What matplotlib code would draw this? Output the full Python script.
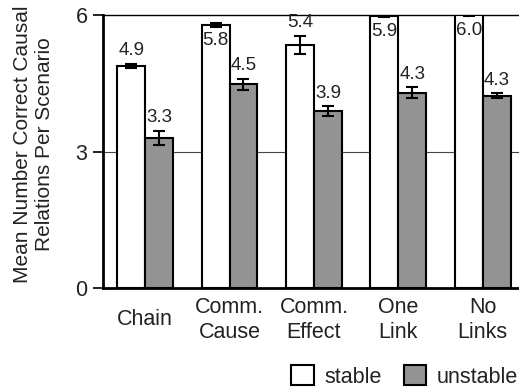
import numpy as np
import matplotlib.pyplot as plt
from matplotlib.patches import Patch

plt.rcParams['font.family'] = ['Liberation Sans', 'DejaVu Sans']

scenarios = ["Chain", "Comm.\nCause", "Comm.\nEffect", "One\nLink", "No\nLinks"]
stable = [4.88, 5.78, 5.34, 5.98, 6.0]
stable_err = [0.05, 0.05, 0.2, 0.02, 0.02]
stable_lbl = ["4.9", "5.8", "5.4", "5.9", "6.0"]
unstable = [3.3, 4.48, 3.89, 4.29, 4.23]
unstable_err = [0.15, 0.12, 0.1, 0.12, 0.05]
unstable_lbl = ["3.3", "4.5", "3.9", "4.3", "4.3"]

gray = "#939393"
fig = plt.figure(figsize=(5.19, 3.87), dpi=100)
ax = fig.add_axes([103 / 519, 99 / 387, 1 - 103 / 519, 273 / 387])

x = np.arange(len(scenarios))
w = 0.33
ekw = dict(elinewidth=1.5, capthick=1.5, ecolor="black")
ax.bar(x - w / 2, stable, w, yerr=stable_err, color="white", edgecolor="black",
       linewidth=1.5, capsize=4, error_kw=ekw, zorder=3)
ax.bar(x + w / 2, unstable, w, yerr=unstable_err, color=gray, edgecolor="black",
       linewidth=1.5, capsize=4, error_kw=ekw, zorder=3)

for i in range(len(x)):
    if stable[i] > 5.7:
        # labels that would hit the top line sit inside the bar
        ax.text(x[i] - w / 2, stable[i] - 0.15, stable_lbl[i], ha="center", va="top",
                fontsize=13.5, color="#222222", zorder=4)
    else:
        ax.text(x[i] - w / 2, stable[i] + stable_err[i] + 0.1, stable_lbl[i],
                ha="center", va="bottom", fontsize=13.5, color="#222222", zorder=4)
    ax.text(x[i] + w / 2, unstable[i] + unstable_err[i] + 0.1, unstable_lbl[i],
            ha="center", va="bottom", fontsize=13.5, color="#222222", zorder=4)

ax.set_xlim(-0.5, 4.43)
ax.set_ylim(0, 6)
ax.set_yticks([0, 3, 6])
ax.axhline(3, color="#444444", linewidth=0.8, zorder=1)
ax.set_xticks(x)
ax.set_xticklabels(scenarios, fontsize=15.5, va="center", color="#222222")
ax.tick_params(axis="x", length=0, pad=23)
ax.tick_params(axis="y", length=7.2, width=1.2, labelsize=15.5, pad=4,
               labelcolor="#222222")
ax.spines["right"].set_visible(False)
ax.spines["left"].set_linewidth(2)
ax.spines["bottom"].set_linewidth(2)
ax.spines["top"].set_linewidth(1)
ax.set_ylabel("Mean Number Correct Causal\nRelations Per Scenario", fontsize=15,
              color="#222222")
ax.yaxis.set_label_coords(-0.117, 0.527)

handles = [Patch(facecolor="white", edgecolor="black", linewidth=1.5, label="stable"),
           Patch(facecolor=gray, edgecolor="black", linewidth=1.5, label="unstable")]
leg = fig.legend(handles=handles, loc="lower right", bbox_to_anchor=(1.036, -0.052),
                 ncol=2, frameon=False, fontsize=15.5, handlelength=1.05,
                 handleheight=1.05, handletextpad=0.5, columnspacing=1.0)
for t in leg.get_texts():
    t.set_color("#222222")

fig.savefig("out.png", dpi=100)
